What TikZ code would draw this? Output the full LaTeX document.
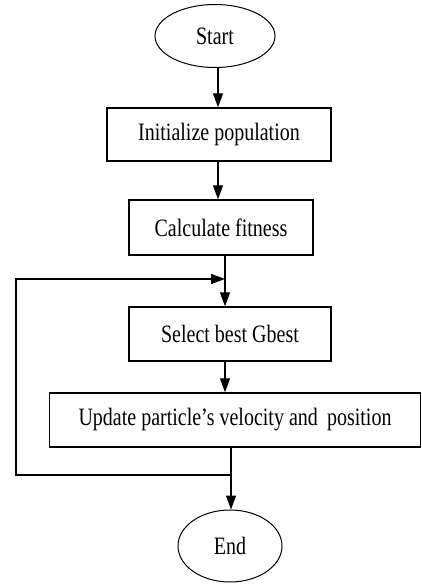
\documentclass[tikz,border=0pt]{standalone}
\usepackage{fontspec}
\setmainfont[FakeStretch=0.8]{Liberation Serif}
\usetikzlibrary{shapes.geometric,arrows.meta}
\begin{document}
\begin{tikzpicture}[x=1pt,y=-1pt,
  box/.style={draw,line width=1.4pt,rectangle,inner sep=0pt,font=\fontsize{25}{28}\selectfont},
  oval/.style={draw,line width=1pt,ellipse,inner sep=0pt,font=\fontsize{25}{28}\selectfont},
  link/.style={line width=1.3pt,-{Triangle[length=14pt,width=10pt]}}]
\useasboundingbox (0,0) rectangle (422,584);
\node[oval,minimum width=120pt,minimum height=63pt] (start) at (215,36) {Start};
\node[box,minimum width=224pt,minimum height=53pt] (init) at (219,134.5) {Initialize population};
\node[box,minimum width=184pt,minimum height=55pt] (calc) at (221,227.5) {Calculate fitness};
\node[box,minimum width=202pt,minimum height=54pt] (sel) at (230,334) {Select best Gbest};
\node[box,minimum width=371pt,minimum height=54pt] (upd) at (235,420) {Update particle’s velocity and\, position};
\node[oval,minimum width=104pt,minimum height=72pt] (end) at (230,546) {End};
\coordinate (a1) at (218,0);
\coordinate (a2) at (225,0);
\coordinate (a3) at (231,0);
\coordinate (j1) at (225,279);
\coordinate (j2) at (231,475);
\coordinate (l1) at (16,475);
\coordinate (l2) at (16,279);
\draw[link] (a1 |- start.south) -- (a1 |- init.north);
\draw[link] (a1 |- init.south) -- (a1 |- calc.north);
\draw[link] (a2 |- calc.south) -- (a2 |- sel.north);
\draw[link] (a2 |- sel.south) -- (a2 |- upd.north);
\draw[link] (a3 |- upd.south) -- (a3 |- end.north);
\draw[link] (j2) -- (l1) -- (l2) -- (j1);
\end{tikzpicture}
\end{document}
